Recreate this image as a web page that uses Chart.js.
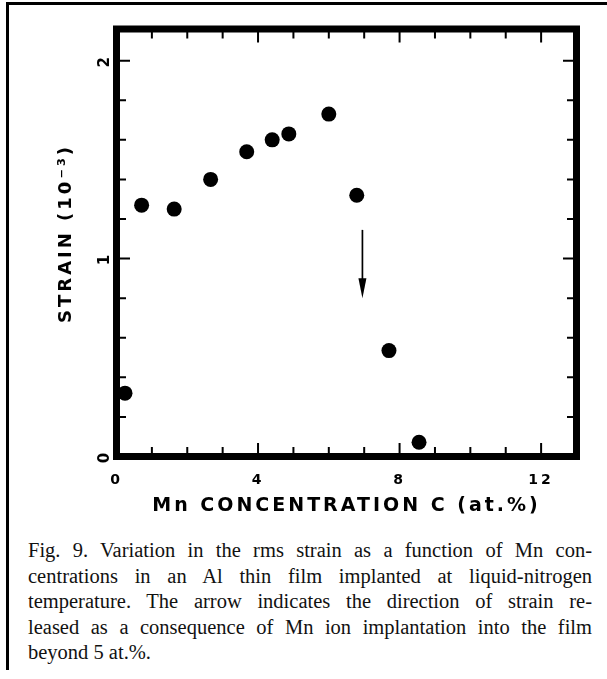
<!DOCTYPE html>
<html lang="en">

<head>
    <meta charset="UTF-8">
    <title>Strain vs Mn concentration</title>
    <style>
        body {
            margin: 0;
            background: #fff;
        }

        .page {
            position: relative;
            width: 607px;
            height: 679px;
            overflow: hidden;
            background: #fff;
        }

        .rule-top {
            position: absolute;
            left: 6px;
            top: 2px;
            width: 601px;
            height: 3px;
            background: #000;
        }

        .rule-left {
            position: absolute;
            left: 6px;
            top: 2px;
            width: 3px;
            height: 668px;
            background: #000;
        }

        #strainChart {
            position: absolute;
            left: 0;
            top: 0;
        }

        .caption {
            position: absolute;
            left: 28px;
            top: 538px;
            width: 564px;
            font-family: "Liberation Serif", "Times New Roman", serif;
            font-size: 20.5px;
            line-height: 25.5px;
            color: #111;
        }

        .caption .line {
            text-align: justify;
            text-align-last: justify;
        }

        .caption .line.last {
            text-align: left;
            text-align-last: left;
        }
    </style>
</head>

<body>
    <div class="page">
        <div class="rule-top"></div>
        <div class="rule-left"></div>
        <canvas id="strainChart" width="607" height="530"></canvas>
        <div class="caption">
            <div class="line">Fig. 9. Variation in the rms strain as a function of Mn con-</div>
            <div class="line">centrations in an Al thin film implanted at liquid-nitrogen</div>
            <div class="line">temperature. The arrow indicates the direction of strain re-</div>
            <div class="line">leased as a consequence of Mn ion implantation into the film</div>
            <div class="line last">beyond 5 at.%.</div>
        </div>
    </div>
    <script src="https://cdn.jsdelivr.net/npm/chart.js"></script>
    <script>
        // measured points (Mn at.%, strain in 1e-3)
        const concentration = [0.24, 0.71, 1.63, 2.66, 3.68, 4.40, 4.87, 6.00, 6.79, 7.70, 8.55];
        const strain = [0.32, 1.27, 1.25, 1.40, 1.54, 1.60, 1.63, 1.73, 1.32, 0.535, 0.072];

        // tick marks and which of them carry a label
        const xTicks = [0, 1, 2, 3, 4, 5, 6, 7, 8, 9, 10, 11, 12, 13];
        const xLabelTicks = [0, 4, 8, 12];
        const yTicks = [0, 0.2, 0.4, 0.6, 0.8, 1, 1.2, 1.4, 1.6, 1.8, 2];
        const yLabelTicks = [0, 1, 2];

        // the downward arrow (strain release)
        const arrowX = [6.95, 6.95];
        const arrowStrain = [1.145, 0.80];

        const xTitle = 'Mn CONCENTRATION C (at.%)';
        // two leading spaces nudge the rotated title up a little, as in the original
        const yTitle = '  STRAIN (10⁻³)';

        const ink = '#000';
        const letterFont = 'DejaVu Sans';

        function isLabelled(list, v) {
            return list.some(t => Math.abs(t - v) < 1e-6);
        }

        // thick box round the plot, ticks pointing inwards on all four sides
        const framePlugin = {
            id: 'frame',
            beforeDraw(chart) {
                chart.ctx.letterSpacing = '3px';
            },
            beforeDatasetsDraw(chart) {
                const { ctx, chartArea: a, scales } = chart;
                ctx.save();
                ctx.strokeStyle = ink;
                ctx.lineWidth = 2;
                const inset = 3.5;

                scales.x.ticks.forEach(t => {
                    if (t.value <= scales.x.min || t.value >= scales.x.max) return;
                    const px = scales.x.getPixelForValue(t.value);
                    const len = inset + (isLabelled(xLabelTicks, t.value) ? 10 : 6);
                    ctx.beginPath();
                    ctx.moveTo(px, a.bottom);
                    ctx.lineTo(px, a.bottom - len);
                    ctx.moveTo(px, a.top);
                    ctx.lineTo(px, a.top + len);
                    ctx.stroke();
                });

                scales.y.ticks.forEach(t => {
                    if (t.value <= scales.y.min || t.value >= scales.y.max) return;
                    const py = scales.y.getPixelForValue(t.value);
                    const len = inset + (isLabelled(yLabelTicks, t.value) ? 10 : 6);
                    ctx.beginPath();
                    ctx.moveTo(a.left, py);
                    ctx.lineTo(a.left + len, py);
                    ctx.moveTo(a.right, py);
                    ctx.lineTo(a.right - len, py);
                    ctx.stroke();
                });

                ctx.lineWidth = 7;
                ctx.lineJoin = 'miter';
                ctx.strokeRect(a.left, a.top, a.right - a.left, a.bottom - a.top);
                ctx.restore();
            },
            afterDatasetsDraw(chart) {
                const { ctx, scales } = chart;
                const x0 = scales.x.getPixelForValue(arrowX[0]);
                const y0 = scales.y.getPixelForValue(arrowStrain[0]);
                const x1 = scales.x.getPixelForValue(arrowX[1]);
                const y1 = scales.y.getPixelForValue(arrowStrain[1]);
                const head = 20;
                ctx.save();
                ctx.strokeStyle = ink;
                ctx.fillStyle = ink;
                ctx.lineWidth = 1.7;
                ctx.beginPath();
                ctx.moveTo(x0, y0);
                ctx.lineTo(x1, y1 - head + 2);
                ctx.stroke();
                ctx.beginPath();
                ctx.moveTo(x1, y1);
                ctx.lineTo(x1 - 4, y1 - head);
                ctx.lineTo(x1 + 4, y1 - head);
                ctx.closePath();
                ctx.fill();
                ctx.restore();
            }
        };

        const ctx = document.getElementById('strainChart').getContext('2d');

        new Chart(ctx, {
            type: 'scatter',
            data: {
                datasets: [{
                    data: concentration.map((c, i) => ({ x: c, y: strain[i] })),
                    pointRadius: 7.5,
                    pointHoverRadius: 7.5,
                    pointBackgroundColor: ink,
                    pointBorderWidth: 0,
                    showLine: false
                }]
            },
            options: {
                responsive: false,
                animation: false,
                events: [],
                layout: {
                    padding: { left: 0, top: 29, right: 30.5, bottom: 0 }
                },
                plugins: {
                    legend: { display: false },
                    tooltip: { enabled: false }
                },
                scales: {
                    x: {
                        type: 'linear',
                        position: 'bottom',
                        min: 0,
                        max: 13,
                        afterBuildTicks: scale => {
                            scale.ticks = xTicks.map(v => ({ value: v }));
                        },
                        afterFit: scale => {
                            scale.height = 73.5;
                        },
                        grid: { display: false },
                        border: { display: false },
                        ticks: {
                            autoSkip: false,
                            maxRotation: 0,
                            padding: 7,
                            color: ink,
                            font: { family: letterFont, size: 14, weight: 'bold' },
                            callback: v => isLabelled(xLabelTicks, v) ? String(v) : ''
                        },
                        title: {
                            display: true,
                            text: xTitle,
                            color: ink,
                            font: { family: letterFont, size: 19, weight: 'bold' },
                            padding: { top: 0, bottom: 13 }
                        }
                    },
                    y: {
                        type: 'linear',
                        position: 'left',
                        min: 0,
                        max: 2.16,
                        afterBuildTicks: scale => {
                            scale.ticks = yTicks.map(v => ({ value: v }));
                        },
                        afterFit: scale => {
                            scale.width = 116.5;
                        },
                        grid: { display: false, drawTicks: false },
                        border: { display: false },
                        ticks: {
                            autoSkip: false,
                            minRotation: 90,
                            maxRotation: 90,
                            crossAlign: 'center',
                            padding: 6.5,
                            color: ink,
                            font: { family: letterFont, size: 15, weight: 'bold' },
                            callback: v => isLabelled(yLabelTicks, v) ? String(Math.round(v)) : ''
                        },
                        title: {
                            display: true,
                            text: yTitle,
                            color: ink,
                            font: { family: letterFont, size: 18, weight: 'bold' },
                            padding: { top: 56, bottom: 0 }
                        }
                    }
                }
            },
            plugins: [framePlugin]
        });
    </script>
</body>

</html>
